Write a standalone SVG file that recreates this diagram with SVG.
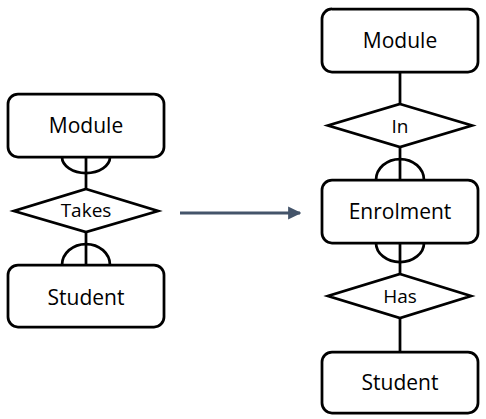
<svg xmlns="http://www.w3.org/2000/svg" width="486" height="419" viewBox="0 0 486 419">
<defs>
<style>
.box{fill:#fff;stroke:#000;stroke-width:2.75}
.rel{fill:#fff;stroke:#000;stroke-width:2.75;stroke-linejoin:miter}
.ln{fill:none;stroke:#000;stroke-width:2.75}
.t{font-family:"Open Sans","Noto Sans",sans-serif;font-size:21px;fill:#000;text-anchor:middle}
.rt{font-family:"Open Sans","Noto Sans",sans-serif;font-size:19px;fill:#000;text-anchor:middle}
</style>
<marker id="ah" viewBox="0 0 10 10" refX="9" refY="5" markerWidth="4.4" markerHeight="4.4" orient="auto" markerUnits="strokeWidth">
<path d="M0,0 L10,5 L0,10 z" fill="#44546A"/>
</marker>
</defs>
<rect width="486" height="419" fill="#fff"/>
<g id="connectors">
<line class="ln" x1="86" y1="157" x2="86" y2="189"/>
<path class="ln" d="M62,157 A24,16 0 0 0 110,157"/>
<line class="ln" x1="86" y1="232" x2="86" y2="265"/>
<path class="ln" d="M62,265 A24,21 0 0 1 110,265"/>
<line class="ln" x1="400" y1="72" x2="400" y2="104"/>
<line class="ln" x1="400" y1="147" x2="400" y2="180"/>
<path class="ln" d="M376,180 A24,21 0 0 1 424,180"/>
<line class="ln" x1="400" y1="243" x2="400" y2="274"/>
<path class="ln" d="M376,243 A24,19 0 0 0 424,243"/>
<line class="ln" x1="400" y1="318" x2="400" y2="352"/>
<line x1="180" y1="213" x2="300" y2="213" stroke="#44546A" stroke-width="3" marker-end="url(#ah)"/>
</g>
<g id="left-module">
<rect class="box" x="8" y="94" width="156" height="63" rx="10"/>
<text class="t" x="86" y="133">Module</text>
</g>
<g id="takes">
<polygon class="rel" points="86,189 158,211 86,232 14,211"/>
<text class="rt" x="86" y="217">Takes</text>
</g>
<g id="left-student">
<rect class="box" x="8" y="265" width="156" height="62" rx="10"/>
<text class="t" x="86" y="305">Student</text>
</g>
<g id="right-module">
<rect class="box" x="322" y="9" width="156" height="63" rx="10"/>
<text class="t" x="400" y="48">Module</text>
</g>
<g id="in">
<polygon class="rel" points="400,104 472,125.5 400,147 328,125.5"/>
<text class="rt" x="400" y="133">In</text>
</g>
<g id="enrolment">
<rect class="box" x="322" y="180" width="156" height="63" rx="10"/>
<text class="t" x="400" y="219">Enrolment</text>
</g>
<g id="has">
<polygon class="rel" points="400,274 471,296 400,318 328,296"/>
<text class="rt" x="400" y="303">Has</text>
</g>
<g id="right-student">
<rect class="box" x="322" y="352" width="156" height="61" rx="10"/>
<text class="t" x="400" y="390">Student</text>
</g>
</svg>
